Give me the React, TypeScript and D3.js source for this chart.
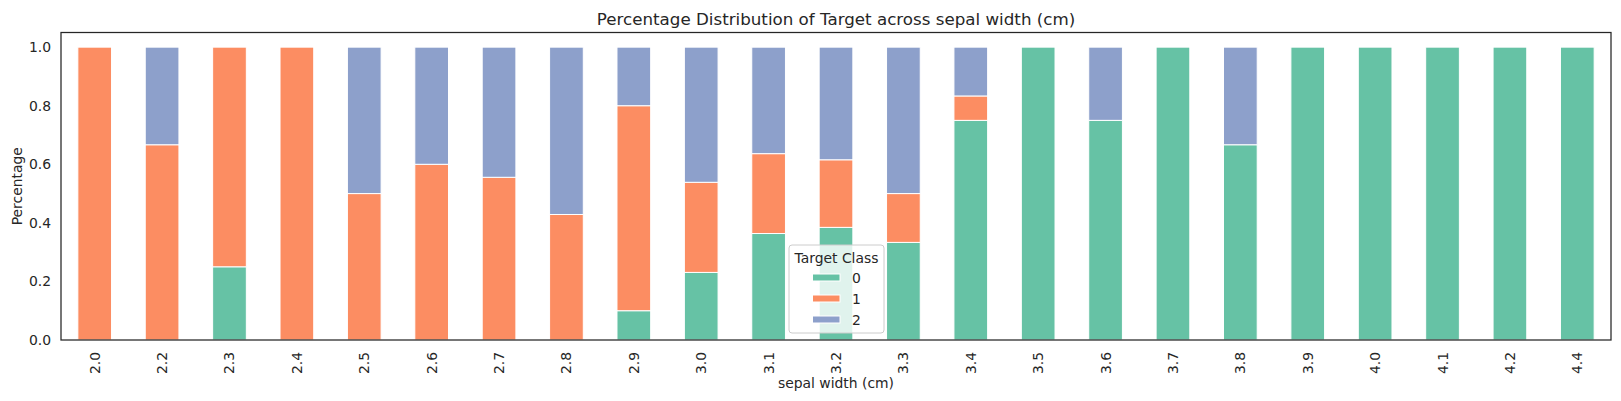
import React from "react";
import * as d3 from "d3";

const categories = ["2.0","2.2","2.3","2.4","2.5","2.6","2.7","2.8","2.9","3.0","3.1","3.2","3.3","3.4","3.5","3.6","3.7","3.8","3.9","4.0","4.1","4.2","4.4"];
const class0 = [0,0,0.25,0,0,0,0,0,0.1,0.2308,0.3636,0.3846,0.3333,0.75,1,0.75,1,0.6667,1,1,1,1,1];
const class1 = [1,0.6667,0.75,1,0.5,0.6,0.5556,0.4286,0.7,0.3077,0.2727,0.2308,0.1667,0.0833,0,0,0,0,0,0,0,0,0];
const class2 = [0,0.3333,0,0,0.5,0.4,0.4444,0.5714,0.2,0.4615,0.3636,0.3846,0.5,0.1667,0,0.25,0,0.3333,0,0,0,0,0];
const seriesNames = ["0","1","2"];
const yTicks = [0,0.2,0.4,0.6,0.8,1.0];
const colors = ["#66c2a5","#fc8d62","#8da0cb"];

export default function App() {
  const W = 1621, H = 401;
  const left = 61, right = 1611, top = 32.5, bottom = 340;
  const txt = "#262626";
  const font = "DejaVu Sans, sans-serif";
  const x = d3.scaleBand().domain(categories).range([left, right]).paddingInner(0.5).paddingOuter(0.25);
  const y = d3.scaleLinear().domain([0, 1.05]).range([bottom, top]);
  const rows = categories.map((c, i) => ({ cat: c, s0: class0[i], s1: class1[i], s2: class2[i] }));
  const stack = d3.stack<any>().keys(["s0","s1","s2"])(rows);
  const lx = 789, ly = 245;
  return (
    <svg width={W} height={H} style={{ position: "absolute", left: 0, top: 0 }} fontFamily={font}>
      <rect x={0} y={0} width={W} height={H} fill="#fff" />
      {stack.map((layer, k) => (
        <g key={k}>
          {layer.map((d: any, i: number) => {
            const h = y(d[0]) - y(d[1]);
            if (h <= 0) return null;
            return (
              <rect key={i} x={x(categories[i])} width={x.bandwidth()} y={y(d[1])} height={h}
                fill={colors[k]} stroke="#fff" strokeWidth={1} />
            );
          })}
        </g>
      ))}
      <rect x={left} y={top} width={right - left} height={bottom - top} fill="none" stroke="#262626" strokeWidth={1.25} />
      {yTicks.map((t) => (
        <text key={t} x={51} y={y(t)} textAnchor="end" dominantBaseline="central" fontSize={13.9} fill={txt}>{t.toFixed(1)}</text>
      ))}
      {categories.map((c) => {
        const cx = (x(c) as number) + x.bandwidth() / 2;
        return (
          <text key={c} transform={`translate(${cx},${352}) rotate(-90)`} textAnchor="end" dominantBaseline="central" fontSize={13.9} fill={txt}>{c}</text>
        );
      })}
      <text x={(left + right) / 2} y={24.5} textAnchor="middle" fontSize={16.7} fill={txt}>Percentage Distribution of Target across sepal width (cm)</text>
      <text x={(left + right) / 2} y={388} textAnchor="middle" fontSize={13.9} fill={txt}>sepal width (cm)</text>
      <text transform={`translate(21.5,${(top + bottom) / 2}) rotate(-90)`} textAnchor="middle" fontSize={13.9} fill={txt}>Percentage</text>
      <g>
        <rect x={lx} y={ly} width={95} height={88} rx={3} fill="#fff" fillOpacity={0.8} stroke="#cccccc" strokeWidth={1} />
        <text x={lx + 47.5} y={ly + 13} textAnchor="middle" dominantBaseline="central" fontSize={13.9} fill={txt}>Target Class</text>
        {seriesNames.map((s, k) => (
          <g key={s}>
            <rect x={812.5} y={ly + 29 + k * 21} width={27.5} height={7} fill={colors[k]} stroke="#fff" strokeWidth={1} />
            <text x={852} y={ly + 33 + k * 21} dominantBaseline="central" fontSize={13.9} fill={txt}>{s}</text>
          </g>
        ))}
      </g>
    </svg>
  );
}
